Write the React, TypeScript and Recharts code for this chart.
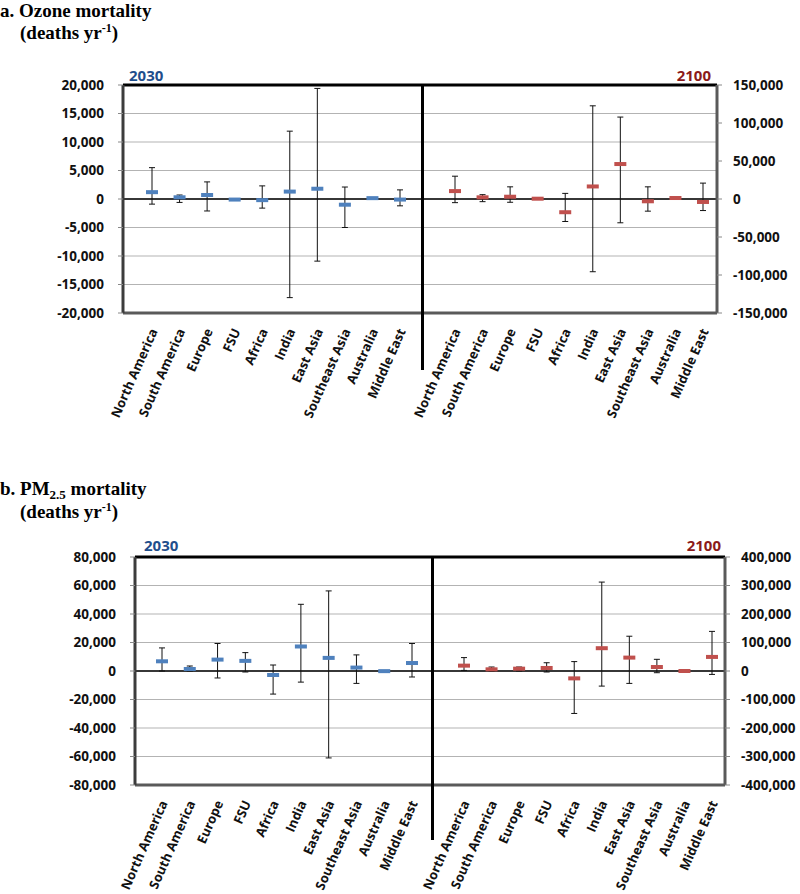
import React from 'react';
import {
  ComposedChart,
  Scatter,
  ErrorBar,
  XAxis,
  YAxis,
  CartesianGrid,
  ReferenceLine,
} from 'recharts';

const regions = [
  'North America',
  'South America',
  'Europe',
  'FSU',
  'Africa',
  'India',
  'East Asia',
  'Southeast Asia',
  'Australia',
  'Middle East',
];

// a. ozone mortality, 2030 (mean, low, high)
const ozone2030Mean = [1200, 300, 700, -100, -200, 1300, 1800, -1000, 150, -100];
const ozone2030Low = [-900, -600, -2100, -100, -1600, -17300, -10900, -5000, 150, -1200];
const ozone2030High = [5500, 700, 3000, -100, 2300, 11900, 19400, 2100, 150, 1600];

// a. ozone mortality, 2100
const ozone2100Mean = [10400, 2200, 3000, 400, -17400, 16500, 46000, -3000, 1300, -3900];
const ozone2100Low = [-4800, -3500, -4300, 400, -29600, -95700, -31300, -16000, 1300, -15200];
const ozone2100High = [30000, 5700, 16000, 400, 7400, 122600, 107800, 16000, 1300, 20900];

// b. PM2.5 mortality, 2030
const pm2030Mean = [6800, 1400, 8000, 7100, -2800, 17200, 9200, 2400, -100, 5600];
const pm2030Low = [0, 0, -4900, -700, -16200, -7800, -61000, -8700, -100, -4200];
const pm2030High = [16200, 3500, 19300, 12900, 4200, 46800, 56200, 11300, -100, 19300];

// b. PM2.5 mortality, 2100
const pm2100Mean = [18800, 5900, 8200, 10600, -25900, 80000, 47000, 14000, 0, 49400];
const pm2100Low = [2000, 0, 0, -3500, -149000, -53000, -43500, -6000, 0, -12000];
const pm2100High = [47000, 14000, 14000, 29000, 33000, 312000, 122000, 41000, 0, 139000];

const ozoneTicks2030 = [-20000, -15000, -10000, -5000, 0, 5000, 10000, 15000, 20000];
const ozoneTicks2100 = [-150000, -100000, -50000, 0, 50000, 100000, 150000];
const pmTicks2030 = [-80000, -60000, -40000, -20000, 0, 20000, 40000, 60000, 80000];
const pmTicks2100 = [-400000, -300000, -200000, -100000, 0, 100000, 200000, 300000, 400000];

const BLUE = '#4f81bd';
const RED = '#c0504d';
const LABEL_FONT = 'Open Sans, sans-serif';

function buildRows(mean: number[], low: number[], high: number[]) {
  return regions.map((region, i) => ({
    region,
    mean: mean[i],
    err: [mean[i] - low[i], high[i] - mean[i]],
  }));
}

const RegionTick = (props: any) => {
  const { x, y, payload } = props;
  return (
    <g transform={`translate(${x + 6},${y + 10})`}>
      <text
        textAnchor="end"
        transform="rotate(-66)"
        fontSize={13}
        fontWeight={700}
        fontFamily={LABEL_FONT}
        fill="#111"
      >
        {payload.value}
      </text>
    </g>
  );
};

const dash = (color: string) => (props: any) => (
  <rect x={props.cx - 6} y={props.cy - 2} width={12} height={4} fill={color} />
);

const fmt = (v: number) => v.toLocaleString('en-US');

interface HalfProps {
  side: 'left' | 'right';
  rows: { region: string; mean: number; err: number[] }[];
  ticks: number[];
  color: string;
  top: number;
  height: number;
  marginTop: number;
  xHeight: number;
  plotLeft: number;
  plotRight: number;
  padLeft: number;
  padRight: number;
}

function Half(p: HalfProps) {
  const lo = p.ticks[0];
  const hi = p.ticks[p.ticks.length - 1];
  const isLeft = p.side === 'left';
  const margin = isLeft
    ? { top: p.marginTop, right: 800 - p.plotRight, bottom: 7, left: 0 }
    : { top: p.marginTop, right: 0, bottom: 7, left: p.plotLeft };
  return (
    <div style={{ position: 'absolute', left: 0, top: p.top }}>
      <ComposedChart width={800} height={p.height} data={p.rows} margin={margin}>
        {isLeft && <CartesianGrid vertical={false} stroke="#b3b3b3" />}
        <XAxis
          dataKey="region"
          type="category"
          interval={0}
          height={p.xHeight}
          padding={{ left: p.padLeft, right: p.padRight }}
          tickLine={false}
          axisLine={isLeft ? { stroke: '#5a5a5a', strokeWidth: 3 } : false}
          tick={<RegionTick />}
        />
        <YAxis
          orientation={p.side}
          type="number"
          domain={[lo, hi]}
          ticks={p.ticks}
          allowDataOverflow
          width={isLeft ? p.plotLeft : 800 - p.plotRight}
          tickFormatter={fmt}
          tickSize={5}
          tickMargin={isLeft ? 14 : 11}
          tickLine={{ stroke: '#888' }}
          axisLine={{ stroke: isLeft ? '#3c3c3c' : '#5a5a5a', strokeWidth: 3 }}
          tick={{ fill: '#111', fontSize: 13.5, fontWeight: 700, fontFamily: LABEL_FONT }}
        />
        {isLeft && <ReferenceLine y={hi} stroke="#000" strokeWidth={3} />}
        {isLeft && <ReferenceLine y={0} stroke="#000" strokeWidth={1.5} />}
        <Scatter dataKey="mean" shape={dash(p.color)} isAnimationActive={false}>
          <ErrorBar dataKey="err" direction="y" width={3} stroke="#111" strokeWidth={1} />
        </Scatter>
      </ComposedChart>
    </div>
  );
}

export default function App() {
  const a = { top: 0, height: 470, marginTop: 85, xHeight: 150, plotLeft: 123, plotRight: 717 };
  const b = { top: 470, height: 424, marginTop: 87, xHeight: 102, plotLeft: 135, plotRight: 725 };
  return (
    <div style={{ position: 'absolute', left: 0, top: 0, width: 800, height: 894, background: '#fff' }}>
      <Half side="left" rows={buildRows(ozone2030Mean, ozone2030Low, ozone2030High)} ticks={ozoneTicks2030} color={BLUE} {...a} padLeft={29} padRight={317} />
      <Half side="right" rows={buildRows(ozone2100Mean, ozone2100Low, ozone2100High)} ticks={ozoneTicks2100} color={RED} {...a} padLeft={332} padRight={14} />
      <Half side="left" rows={buildRows(pm2030Mean, pm2030Low, pm2030High)} ticks={pmTicks2030} color={BLUE} {...b} padLeft={27} padRight={313} />
      <Half side="right" rows={buildRows(pm2100Mean, pm2100Low, pm2100High)} ticks={pmTicks2100} color={RED} {...b} padLeft={329} padRight={13} />

      <svg width={800} height={894} style={{ position: 'absolute', left: 0, top: 0, pointerEvents: 'none' }}>
        <g fontFamily="Liberation Serif, Times New Roman, serif" fontWeight={700} fontSize={19} fill="#000">
          <text x={0} y={17}>a. Ozone mortality</text>
          <text x={20} y={39}>
            (deaths yr<tspan dy={-7} fontSize={12}>-1</tspan><tspan dy={7}>)</tspan>
          </text>
          <text x={0} y={495}>
            b. PM<tspan dy={4} fontSize={13}>2.5</tspan><tspan dy={-4}> mortality</tspan>
          </text>
          <text x={20} y={518}>
            (deaths yr<tspan dy={-7} fontSize={12}>-1</tspan><tspan dy={7}>)</tspan>
          </text>
        </g>
        <g fontFamily={LABEL_FONT} fontWeight={700} fontSize={15}>
          <text x={129} y={81} fill="#1f4e8c">2030</text>
          <text x={711} y={81} fill="#8b1a1a" textAnchor="end">2100</text>
          <text x={144} y={551} fill="#1f4e8c">2030</text>
          <text x={721} y={551} fill="#8b1a1a" textAnchor="end">2100</text>
        </g>
        <line x1={422.5} x2={422.5} y1={84} y2={370} stroke="#000" strokeWidth={3} />
        <line x1={432.5} x2={432.5} y1={556} y2={840} stroke="#000" strokeWidth={3} />
      </svg>
    </div>
  );
}
